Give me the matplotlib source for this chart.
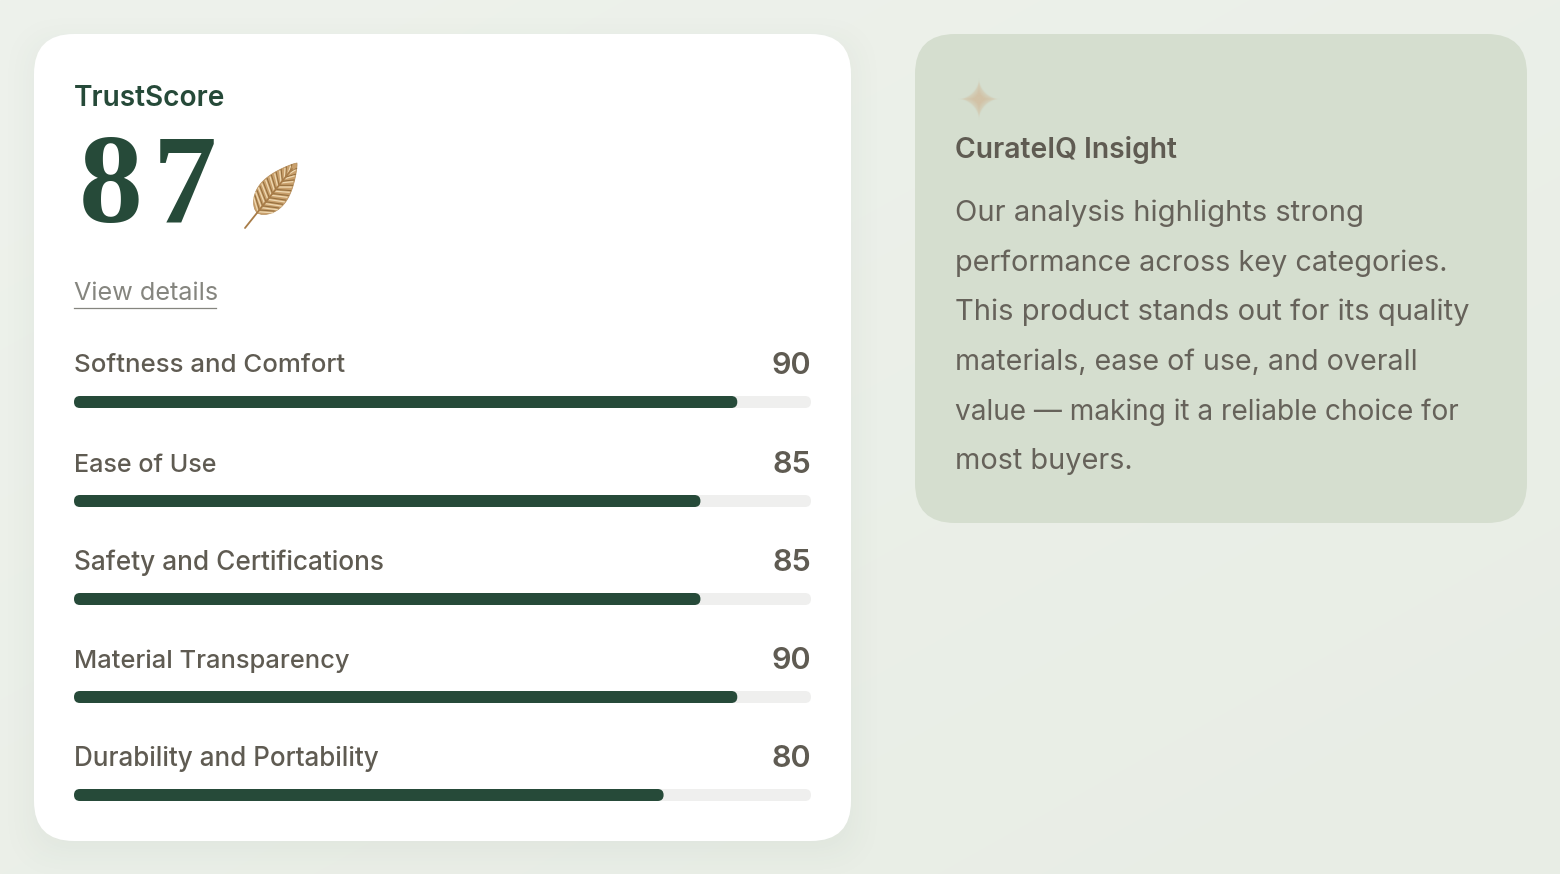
#!/usr/bin/env python
"""TrustScore card with the CurateIQ insight panel."""

import numpy as np
import matplotlib
matplotlib.use("Agg")
import matplotlib.pyplot as plt
from matplotlib.patches import FancyBboxPatch, Polygon

W, H = 1560, 874

overall_score = 87
categories = [
    "Softness and Comfort",
    "Ease of Use",
    "Safety and Certifications",
    "Material Transparency",
    "Durability and Portability",
]
scores = [90, 85, 85, 90, 80]
insight_lines = [
    "Our analysis highlights strong",
    "performance across key categories.",
    "This product stands out for its quality",
    "materials, ease of use, and overall",
    "value — making it a reliable choice for",
    "most buyers.",
]

GREEN = "#264a39"
GREY = "#5f5b52"
TRACK = "#efefee"
PANEL = "#d5decf"
FONT = "Inter"


def rounded(ax, x0, y0, x1, y1, r, color, z=2):
    patch = FancyBboxPatch(
        (x0 + r, y0 + r), x1 - x0 - 2 * r, y1 - y0 - 2 * r,
        boxstyle=f"round,pad={r},rounding_size={r}",
        fc=color, ec="none", zorder=z,
    )
    ax.add_patch(patch)
    return patch


def fit_width(txt, renderer, target):
    # scale the font so the text is as wide as in the reference
    width = txt.get_window_extent(renderer).width
    txt.set_fontsize(txt.get_fontsize() * target / width)


def box_blur(img, k):
    kernel = np.ones(k) / k
    for axis in (0, 1):
        img = np.apply_along_axis(lambda v: np.convolve(v, kernel, mode="same"), axis, img)
    return img


def draw_background(ax):
    # diagonal gradient
    yy, xx = np.mgrid[0:H, 0:W]
    t = (xx / W + yy / H) / 2
    c0 = np.array([0xee, 0xf2, 0xec]) / 255
    c1 = np.array([0xe8, 0xed, 0xe5]) / 255
    img = c0[None, None, :] * (1 - t[..., None]) + c1[None, None, :] * t[..., None]
    ax.imshow(img, extent=(0, W, H, 0), zorder=0, aspect="auto")

    # soft shadow under the white card
    mask = np.zeros((H, W))
    mask[44:850, 34:851] = 1
    mask = box_blur(box_blur(mask, 41), 41)
    shadow = np.zeros((H, W, 4))
    shadow[..., :3] = np.array([0x26, 0x4a, 0x39]) / 255
    shadow[..., 3] = mask * 0.06
    ax.imshow(shadow, extent=(0, W, H, 0), zorder=1, aspect="auto")


def draw_leaf(ax):
    # small bronze leaf beside the score
    tip = np.array([297.0, 163.0])
    base = np.array([257.0, 213.0])
    axis_vec = tip - base
    length = np.hypot(*axis_vec)
    u = axis_vec / length
    n = np.array([-u[1], u[0]])
    t = np.linspace(0, 1, 40)
    half = 15.5 * np.sin(np.pi * t ** 0.72) ** 0.85
    left = base + np.outer(t, axis_vec) + np.outer(half, n)
    right = base + np.outer(t, axis_vec) - np.outer(half, n)
    ax.add_patch(Polygon(np.vstack([left, right[::-1]]), fc="#c9a06c", ec="#b58d5a", lw=0.5, zorder=3))
    for s in np.linspace(0.06, 0.8, 10):
        p = base + axis_vec * s
        w = np.interp(s + 0.13, t, half)
        for sign in (1, -1):
            q = p + axis_vec * 0.13 + sign * n * w * 0.93
            ax.plot([p[0], q[0]], [p[1], q[1]], color="#96703f", lw=0.8, zorder=4)
            q2 = q - axis_vec * 0.035
            ax.plot([p[0] - u[0] * 2.2, q2[0]], [p[1] - u[1] * 2.2, q2[1]], color="#efd9b2", lw=0.9, zorder=4)
    ax.plot([245, tip[0] - 5], [228, tip[1] + 6], color="#a87c48", lw=1.3, solid_capstyle="round", zorder=5)


def draw_sparkle(ax, cx, cy):
    # four point star fading out towards the tips
    r = 21
    yy, xx = np.mgrid[-r:r + 0.01:0.25, -r:r + 0.01:0.25]
    d = (np.abs(xx) ** 0.62 + np.abs(yy) ** 0.62) ** (1 / 0.62) / r
    img = np.zeros(xx.shape + (4,))
    img[..., :3] = np.array([0xd2, 0xc2, 0xa6]) / 255
    img[..., 3] = np.clip((1.0 - d) * 6, 0, 1) * np.clip(1.35 - d, 0, 1)
    ax.imshow(img, extent=(cx - r, cx + r, cy + r, cy - r), zorder=3, aspect="auto")


def main():
    fig = plt.figure(figsize=(W / 100, H / 100), dpi=100)
    ax = fig.add_axes([0, 0, 1, 1])
    draw_background(ax)
    renderer = fig.canvas.get_renderer()

    # left card
    rounded(ax, 34, 34, 851, 841, 40, "white")
    ax.text(74, 98, "TrustScore", family=FONT, fontsize=20.2, fontweight="semibold",
            color=GREEN, va="center", zorder=5)
    # digits are set apart by hand, the serif is narrower than the original face
    for digit, x in zip(str(overall_score), [79, 153]):
        ax.text(x, 222, digit, family="Liberation Serif", fontsize=92, fontweight="bold",
                color=GREEN, va="baseline", zorder=5)
    draw_leaf(ax)
    ax.text(74, 294, "View details", family=FONT, fontsize=18.2, fontweight="regular",
            color="#85857f", va="center", zorder=5)
    ax.plot([74, 216], [307.5, 307.5], color="#85857f", lw=0.9, zorder=5)

    # score rows
    track_x0, track_x1 = 74, 811
    row_tops = [364, 463, 561, 659, 757]
    label_ends = [346, 217, 384, 349, 379]
    for name, score, y, end in zip(categories, scores, row_tops, label_ends):
        txt = ax.text(track_x0, y + 2, name, family=FONT, fontsize=18.8, fontweight="medium",
                      color=GREY, va="center", zorder=5)
        fit_width(txt, renderer, end - track_x0)
        ax.text(track_x1, y + 2, str(score), family=FONT, fontsize=22, fontweight="semibold",
                color=GREY, va="center", ha="right", zorder=5)
        rounded(ax, track_x0, y + 32, track_x1, y + 44, 6, TRACK, z=3)
        fill_x1 = track_x0 + (track_x1 - track_x0) * score / 100
        rounded(ax, track_x0, y + 32, fill_x1, y + 44, 6, GREEN, z=4)

    # right panel
    rounded(ax, 915, 34, 1527, 523, 40, PANEL)
    draw_sparkle(ax, 979, 99)
    ax.text(955, 149.5, "CurateIQ Insight", family=FONT, fontsize=20.4, fontweight="semibold",
            color=GREY, va="center", zorder=5)

    line_ends = [1365, 1447, 1469, 1417, 1461, 1133]
    for i, (line, end) in enumerate(zip(insight_lines, line_ends)):
        txt = ax.text(955, 213.5 + i * 49.6, line, family=FONT, fontsize=21, fontweight="regular",
                      color="#66625a", va="center", zorder=5)
        fit_width(txt, renderer, end - 955)

    ax.set_xlim(0, W)
    ax.set_ylim(H, 0)
    ax.axis("off")
    fig.savefig("out.png", dpi=100)


if __name__ == "__main__":
    main()
